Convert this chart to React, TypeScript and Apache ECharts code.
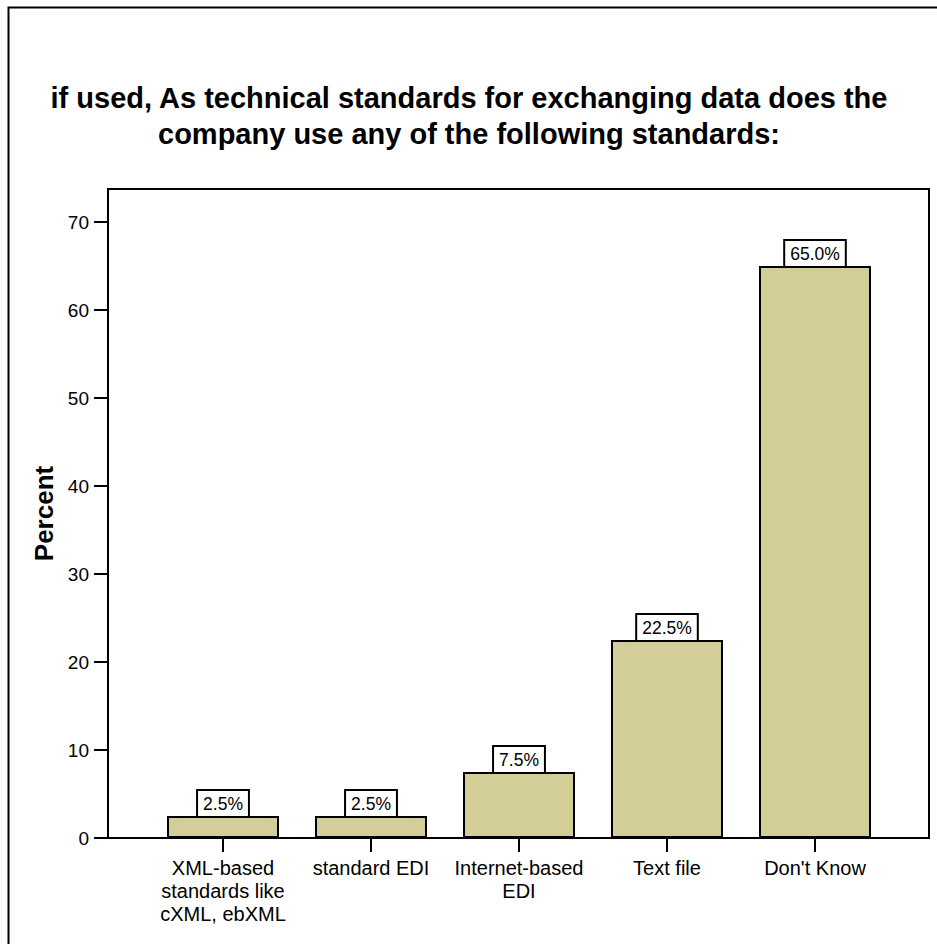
import React, { useEffect, useRef } from "react";
import * as echarts from "echarts";

// Survey answers and their shares (percent of respondents)
const categories: string[] = [
  "XML-based\nstandards like\ncXML, ebXML",
  "standard EDI",
  "Internet-based\nEDI",
  "Text file",
  "Don't Know",
];
const percents: number[] = [2.5, 2.5, 7.5, 22.5, 65.0];

const titleLines: string[] = [
  "if used, As technical standards for exchanging data does the",
  "company use any of the following standards:",
];
const yAxisTitle = "Percent";

const FONT = "'Liberation Sans', Arial, Helvetica, sans-serif";

export default function App() {
  const ref = useRef<HTMLDivElement | null>(null);

  useEffect(() => {
    if (!ref.current) return;
    const chart = echarts.init(ref.current, undefined, { renderer: "svg" });

    // plot frame in pixels
    const plotLeft = 108;
    const plotTop = 189;
    const plotRight = 929;
    const plotBottom = 838;
    const yMax = 73.75;
    // bars sit in a narrower band inside the frame
    const slot = 148;
    const edgePad = 115;
    const barGridLeft = plotLeft + edgePad - slot / 2;

    chart.setOption({
      animation: false,
      backgroundColor: "#ffffff",
      textStyle: { fontFamily: FONT, color: "#000" },
      graphic: [
        {
          type: "rect",
          shape: { x: 8.5, y: 7.5, width: 1200, height: 1200 },
          style: { fill: "none", stroke: "#000", lineWidth: 2 },
          silent: true,
        },
        {
          type: "text",
          x: 469,
          y: 80,
          style: {
            text: titleLines.join("\n"),
            font: `bold 29px ${FONT}`,
            fill: "#000",
            textAlign: "center",
            textVerticalAlign: "top",
            lineHeight: 36,
          },
        },
      ],
      grid: [
        {
          left: plotLeft,
          top: plotTop,
          width: plotRight - plotLeft,
          height: plotBottom - plotTop,
          show: true,
          borderColor: "#000",
          borderWidth: 2,
          backgroundColor: "transparent",
        },
        {
          left: barGridLeft,
          top: plotTop,
          width: slot * categories.length,
          height: plotBottom - plotTop,
        },
      ],
      xAxis: [
        { type: "value", gridIndex: 0, show: false, min: 0, max: 1 },
        {
          type: "category",
          gridIndex: 1,
          data: categories,
          boundaryGap: true,
          axisLine: { show: false },
          axisTick: {
            show: true,
            alignWithLabel: true,
            length: 14,
            lineStyle: { color: "#000", width: 2 },
          },
          axisLabel: {
            color: "#000",
            fontSize: 20,
            fontFamily: FONT,
            lineHeight: 23,
            margin: 18,
            interval: 0,
            align: "center",
          },
          splitLine: { show: false },
        },
      ],
      yAxis: [
        {
          type: "value",
          gridIndex: 0,
          min: 0,
          max: yMax,
          interval: 10,
          name: yAxisTitle,
          nameLocation: "middle",
          nameRotate: 90,
          nameGap: 51,
          nameTextStyle: {
            fontSize: 26,
            fontWeight: "bold",
            fontFamily: FONT,
            color: "#000",
          },
          axisLine: { show: false },
          axisTick: {
            show: true,
            length: 14,
            lineStyle: { color: "#000", width: 2 },
          },
          axisLabel: {
            color: "#000",
            fontSize: 19,
            fontFamily: FONT,
            margin: 19,
            showMaxLabel: false,
            formatter: (v: number) => (v % 10 === 0 ? String(v) : ""),
          },
          splitLine: { show: false },
        },
        {
          type: "value",
          gridIndex: 1,
          min: 0,
          max: yMax,
          show: false,
        },
      ],
      series: [
        {
          type: "bar",
          xAxisIndex: 1,
          yAxisIndex: 1,
          data: percents,
          barWidth: 112,
          itemStyle: {
            color: "#d3ce98",
            borderColor: "#000",
            borderWidth: 2,
          },
          label: {
            show: true,
            position: "top",
            distance: 0,
            formatter: (p: any) => `${Number(p.value).toFixed(1)}%`,
            color: "#000",
            fontSize: 17.5,
            fontFamily: FONT,
            backgroundColor: "#ffffff",
            borderColor: "#000",
            borderWidth: 2,
            padding: [3, 5, 2, 5],
            lineHeight: 20,
          },
        },
      ],
    });

    return () => chart.dispose();
  }, []);

  return (
    <div
      ref={ref}
      style={{
        position: "absolute",
        left: 0,
        top: 0,
        width: 937,
        height: 944,
        background: "#fff",
      }}
    />
  );
}
